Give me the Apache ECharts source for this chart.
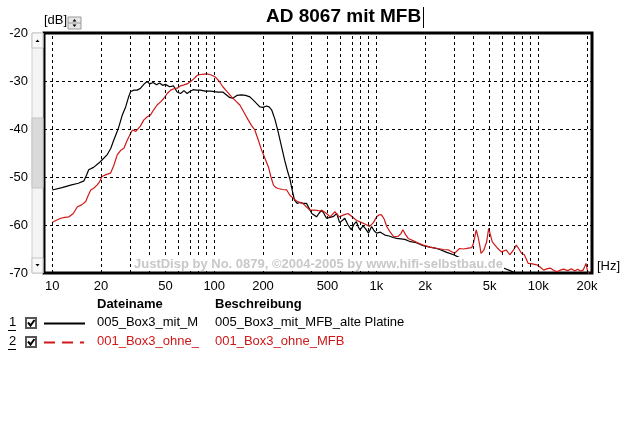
<!DOCTYPE html>
<html>
<head>
<meta charset="utf-8">
<script src="https://cdn.jsdelivr.net/npm/echarts@6/dist/echarts.min.js"></script>
<style>
  html, body { margin: 0; padding: 0; background: #fff; }
  #chart { width: 624px; height: 421px; }
</style>
</head>
<body>
<div id="chart"></div>
<script>
"use strict";

// frequency [Hz] / level [dB]
var blackFreq = [10, 11.5, 13, 14.5, 15.7, 16.3, 16.8, 18, 19.4, 20.5, 21.8, 23, 24, 25, 25.8, 27, 28.4, 29.5, 30.5, 32,
    33.5, 35.1, 37, 38.5, 40, 42, 44, 46, 48, 50, 53, 56, 59, 62, 65, 68, 70.7, 74, 77.6, 82,
    88, 95, 100, 106, 113, 118, 124, 130, 138, 147, 156, 166, 178, 191, 200, 210, 218, 226, 237, 248,
    260, 272, 283, 294, 303, 313, 325, 337, 352, 371, 385, 400, 408, 428, 445, 460, 475, 493, 519, 545,
    570, 594, 620, 639, 670, 702, 730, 754, 775, 792, 830, 860, 895, 936, 970, 1005, 1060, 1131, 1200, 1270,
    1336, 1420, 1500, 1600, 1767, 1950, 2140, 2300, 2465, 2724, 3000, 3264, 3600, 3980, 4400, 5000, 5500, 6140, 6700, 7300,
    8000, 9000];
var blackDb = [-52.7, -52.2, -51.7, -51.3, -50.8, -49.6, -48.5, -48.0, -47.1, -46.3, -45.4, -44.0, -42.3, -40.8, -39.5, -37.2, -35.4, -33.5, -32.2, -31.9,
    -31.9, -31.5, -30.6, -30.1, -30.6, -30.3, -30.8, -30.4, -30.9, -30.7, -31.2, -31.0, -32.3, -32.6, -32.0, -32.6, -32.2, -31.8, -31.9, -31.9,
    -32.1, -32.1, -32.2, -32.3, -32.3, -32.8, -33.4, -33.6, -33.0, -32.9, -33.0, -33.3, -34.3, -35.4, -35.5, -35.2, -35.4, -36.0, -38.0, -40.6,
    -43.6, -46.5, -48.7, -50.6, -52.8, -54.8, -55.5, -55.3, -55.5, -55.5, -56.5, -57.6, -57.9, -58.3, -57.5, -56.9, -57.6, -58.6, -58.4, -58.2,
    -57.6, -59.5, -59.0, -58.6, -60.0, -61.0, -59.8, -59.3, -60.4, -61.0, -60.2, -60.8, -61.7, -60.3, -61.2, -61.7, -61.5, -62.1, -62.3, -62.6,
    -62.8, -62.9, -63.0, -63.4, -63.7, -64.3, -64.6, -64.8, -65.1, -65.7, -66.2, -66.8, -67.3, -67.7, -68.1, -68.5, -68.8, -69.0, -69.5, -70.1,
    -70.5, -71];

var redFreq = [10, 10.6, 11.3, 12, 12.7, 13.5, 14.3, 15.2, 16.1, 16.7, 17.3, 18.1, 18.9, 19.6, 20.3, 21.5, 22.9, 24, 25.2, 26.4,
    27.7, 29, 30.5, 31.3, 32, 32.8, 33.5, 35, 36.8, 38.5, 40.4, 42.3, 44.4, 46.5, 48.9, 51.3, 53.8, 56.4, 59.1, 62,
    65, 68, 71.5, 75, 78.6, 84, 89.7, 95, 101, 107, 113, 120, 128, 136, 144, 153, 162, 170, 178, 187,
    196, 206, 216, 224, 232, 240, 248, 264, 280, 293, 307, 322, 338, 352, 370, 389, 400, 418, 440, 470,
    493, 519, 556, 590, 630, 669, 710, 754, 800, 850, 910, 960, 1005, 1040, 1078, 1120, 1160, 1220, 1276, 1360,
    1420, 1460, 1510, 1574, 1700, 1800, 1946, 2150, 2393, 2600, 2790, 3040, 3264, 3450, 3700, 3885, 3980, 4140, 4250, 4350,
    4430, 4600, 4800, 4940, 5200, 5630, 5910, 6340, 6670, 7000, 7320, 7600, 7880, 8200, 8670, 9200, 9800, 10300, 10800, 11400,
    11900, 12500, 13100, 13700, 14300, 15200, 16000, 16800, 17500, 18200, 18900, 19400, 19700, 20100, 20500];
var redDb = [-59.5, -59.0, -58.6, -58.4, -58.3, -57.6, -56.2, -55.8, -55.1, -53.8, -52.7, -52.3, -51.7, -51.0, -49.9, -49.5, -49.2, -47.6, -45.4, -44.5,
    -44.0, -42.4, -40.9, -40.2, -39.9, -40.5, -40.9, -39.4, -38.1, -37.5, -37.1, -36.0, -35.0, -34.4, -33.6, -32.6, -31.9, -31.6, -31.5, -31.0,
    -30.8, -30.6, -30.1, -29.5, -28.8, -28.6, -28.5, -28.7, -29.1, -30.0, -31.2, -32.2, -33.3, -34.2, -35.0, -36.6, -38.1, -39.3, -40.2, -42.3,
    -44.4, -46.2, -47.9, -50.0, -51.7, -52.2, -52.4, -52.6, -52.7, -53.8, -54.4, -55.0, -55.3, -55.5, -56.2, -56.9, -56.9, -56.9, -57.0, -57.1,
    -57.6, -58.3, -57.2, -58.3, -57.9, -57.6, -58.3, -59.0, -59.4, -59.8, -60.3, -59.5, -58.3, -57.9, -57.9, -58.8, -60.3, -61.5, -62.4, -62.4,
    -61.8, -61.0, -61.9, -62.8, -63.3, -63.7, -64.2, -64.6, -64.9, -65.1, -65.2, -65.9, -64.9, -65.0, -64.8, -64.7, -63.8, -61.0, -62.5, -64.2,
    -65.9, -65.3, -63.5, -60.7, -63.5, -64.9, -65.6, -65.2, -66.2, -65.3, -64.2, -65.0, -65.9, -66.2, -68.0, -68.1, -68.3, -68.8, -69.4, -69.1,
    -69.0, -69.5, -69.7, -69.4, -69.2, -69.5, -69.1, -69.6, -69.2, -69.6, -69.4, -68.6, -68.0, -69.5, -70.2];

// axis ticks
var xTickFreq = [10, 20, 50, 100, 200, 500, 1000, 2000, 5000, 10000, 20000];
var xTickLabels = ['10', '20', '50', '100', '200', '500', '1k', '2k', '5k', '10k', '20k'];
var xGridFreq = [10, 20, 30, 40, 50, 60, 70, 80, 90, 100, 200, 300, 400, 500, 600, 700, 800, 900,
    1000, 2000, 3000, 4000, 5000, 6000, 7000, 8000, 9000, 10000, 20000];
var xMinFreq = 8.9, xMaxFreq = 21450;

var FONT = "'Liberation Sans', Arial, sans-serif";
var RED = '#d01818';

function toLog(freq, db) {
    return freq.map(function (f, i) { return [Math.log10(f), db[i]]; });
}

var myChart = echarts.init(document.getElementById('chart'), null, { renderer: 'canvas' });

var option = {
    animation: false,
    backgroundColor: '#fff',
    grid: {
        left: 44, right: 32, top: 33, bottom: 148,
        show: true, borderColor: '#000', borderWidth: 3, backgroundColor: '#fff', z: 0
    },
    xAxis: {
        type: 'value',
        min: Math.log10(xMinFreq),
        max: Math.log10(xMaxFreq),
        axisLine: { show: false },
        axisTick: { show: false },
        splitLine: { show: false },
        axisLabel: {
            customValues: xTickFreq.map(function (f) { return Math.log10(f); }),
            margin: 7,
            fontFamily: FONT, fontSize: 13, color: '#000',
            formatter: function (v) {
                for (var i = 0; i < xTickFreq.length; i++) {
                    if (Math.abs(Math.log10(xTickFreq[i]) - v) < 1e-6) return xTickLabels[i];
                }
                return '';
            }
        }
    },
    yAxis: {
        type: 'value',
        min: -70, max: -20, interval: 10,
        axisLine: { show: false },
        axisTick: { show: false },
        axisLabel: { margin: 16, fontFamily: FONT, fontSize: 13, color: '#000' },
        splitLine: { show: true, lineStyle: { color: '#000', width: 1, type: [3, 3] } }
    },
    series: [
        {
            // vertical grid lines of the log axis
            name: 'grid', type: 'line', data: [], silent: true,
            markLine: {
                silent: true, symbol: 'none', animation: false,
                label: { show: false },
                lineStyle: { color: '#000', width: 1, type: [3, 3] },
                data: xGridFreq.map(function (f) { return { xAxis: Math.log10(f) }; })
            }
        },
        {
            name: '005_Box3_mit_M', type: 'line', showSymbol: false, clip: true,
            lineStyle: { color: '#000', width: 1.2 },
            data: toLog(blackFreq, blackDb)
        },
        {
            name: '001_Box3_ohne_', type: 'line', showSymbol: false, clip: true,
            lineStyle: { color: RED, width: 1.2 },
            data: toLog(redFreq, redDb)
        }
    ],
    graphic: [
        // title + text cursor
        { type: 'text', z: 100, left: 266, top: 7, style: { text: 'AD 8067 mit MFB', font: 'bold 19px ' + FONT, fill: '#000' } },
        { type: 'line', z: 100, shape: { x1: 423.5, y1: 7, x2: 423.5, y2: 28 }, style: { stroke: '#000', lineWidth: 1 } },
        // [dB] unit + spinner
        { type: 'text', z: 100, left: 44, top: 14, style: { text: '[dB]', font: '13px ' + FONT, fill: '#000' } },
        { type: 'rect', z: 100, shape: { x: 68, y: 17, width: 13, height: 12 }, style: { fill: '#e6e6e6', stroke: '#9a9a9a', lineWidth: 1 } },
        { type: 'line', z: 100, shape: { x1: 68, y1: 23, x2: 81, y2: 23 }, style: { stroke: '#9a9a9a', lineWidth: 1 } },
        { type: 'polygon', z: 100, shape: { points: [[72.5, 21.5], [76.5, 21.5], [74.5, 19]] }, style: { fill: '#000' } },
        { type: 'polygon', z: 100, shape: { points: [[72.5, 24.5], [76.5, 24.5], [74.5, 27]] }, style: { fill: '#000' } },
        // scrollbar left of the plot
        { type: 'rect', z: 100, shape: { x: 32, y: 33, width: 11, height: 240 }, style: { fill: '#f4f4f4', stroke: '#d0d0d0', lineWidth: 1 } },
        { type: 'rect', z: 100, shape: { x: 32, y: 118, width: 11, height: 70 }, style: { fill: '#dadada', stroke: '#c4c4c4', lineWidth: 1 } },
        { type: 'rect', z: 100, shape: { x: 32, y: 33, width: 11, height: 15 }, style: { fill: '#f8f8f8', stroke: '#c4c4c4', lineWidth: 1 } },
        { type: 'rect', z: 100, shape: { x: 32, y: 258, width: 11, height: 15 }, style: { fill: '#f8f8f8', stroke: '#c4c4c4', lineWidth: 1 } },
        { type: 'polygon', z: 101, shape: { points: [[35.5, 42], [39.5, 42], [37.5, 39.5]] }, style: { fill: '#000' } },
        { type: 'polygon', z: 101, shape: { points: [[35.5, 264], [39.5, 264], [37.5, 266.5]] }, style: { fill: '#000' } },
        // watermark with opaque background
        { type: 'rect', z: 100, shape: { x: 132, y: 257, width: 372, height: 14 }, style: { fill: '#fff' } },
        { type: 'text', z: 101, left: 134, top: 258, style: { text: 'JustDisp by No. 0879, \u00a92004-2005 by www.hifi-selbstbau.de', font: 'bold 13px ' + FONT, fill: '#c8c8c8' } },
        // x unit
        { type: 'text', z: 100, left: 597, top: 260, style: { text: '[Hz]', font: '13px ' + FONT, fill: '#000' } },
        // legend table
        { type: 'text', z: 100, left: 97, top: 298, style: { text: 'Dateiname', font: 'bold 13px ' + FONT, fill: '#000' } },
        { type: 'text', z: 100, left: 215, top: 298, style: { text: 'Beschreibung', font: 'bold 13px ' + FONT, fill: '#000' } },

        { type: 'text', z: 100, left: 9, top: 316, style: { text: '1', font: '13px ' + FONT, fill: '#000' } },
        { type: 'line', z: 100, shape: { x1: 8, y1: 330.5, x2: 16, y2: 330.5 }, style: { stroke: '#000', lineWidth: 1 } },
        { type: 'rect', z: 100, shape: { x: 26, y: 318, width: 10, height: 10 }, style: { fill: '#fff', stroke: '#555', lineWidth: 2 } },
        { type: 'polyline', z: 101, shape: { points: [[28, 322.5], [30.5, 325.5], [34.5, 320]] }, style: { stroke: '#000', lineWidth: 2, fill: null } },
        { type: 'line', z: 100, shape: { x1: 44, y1: 323.5, x2: 85, y2: 323.5 }, style: { stroke: '#000', lineWidth: 2 } },
        { type: 'text', z: 100, left: 97, top: 316, style: { text: '005_Box3_mit_M', font: '13px ' + FONT, fill: '#000' } },
        { type: 'text', z: 100, left: 215, top: 316, style: { text: '005_Box3_mit_MFB_alte Platine', font: '13px ' + FONT, fill: '#000' } },

        { type: 'text', z: 100, left: 9, top: 335, style: { text: '2', font: '13px ' + FONT, fill: '#000' } },
        { type: 'line', z: 100, shape: { x1: 8, y1: 349.5, x2: 16, y2: 349.5 }, style: { stroke: '#000', lineWidth: 1 } },
        { type: 'rect', z: 100, shape: { x: 26, y: 337, width: 10, height: 10 }, style: { fill: '#fff', stroke: '#555', lineWidth: 2 } },
        { type: 'polyline', z: 101, shape: { points: [[28, 341.5], [30.5, 344.5], [34.5, 339]] }, style: { stroke: '#000', lineWidth: 2, fill: null } },
        { type: 'line', z: 100, shape: { x1: 44, y1: 342.5, x2: 84, y2: 342.5 }, style: { stroke: RED, lineWidth: 2, lineDash: [11, 7] } },
        { type: 'text', z: 100, left: 97, top: 335, style: { text: '001_Box3_ohne_', font: '13px ' + FONT, fill: RED } },
        { type: 'text', z: 100, left: 215, top: 335, style: { text: '001_Box3_ohne_MFB', font: '13px ' + FONT, fill: RED } }
    ]
};

myChart.setOption(option);
</script>
</body>
</html>
